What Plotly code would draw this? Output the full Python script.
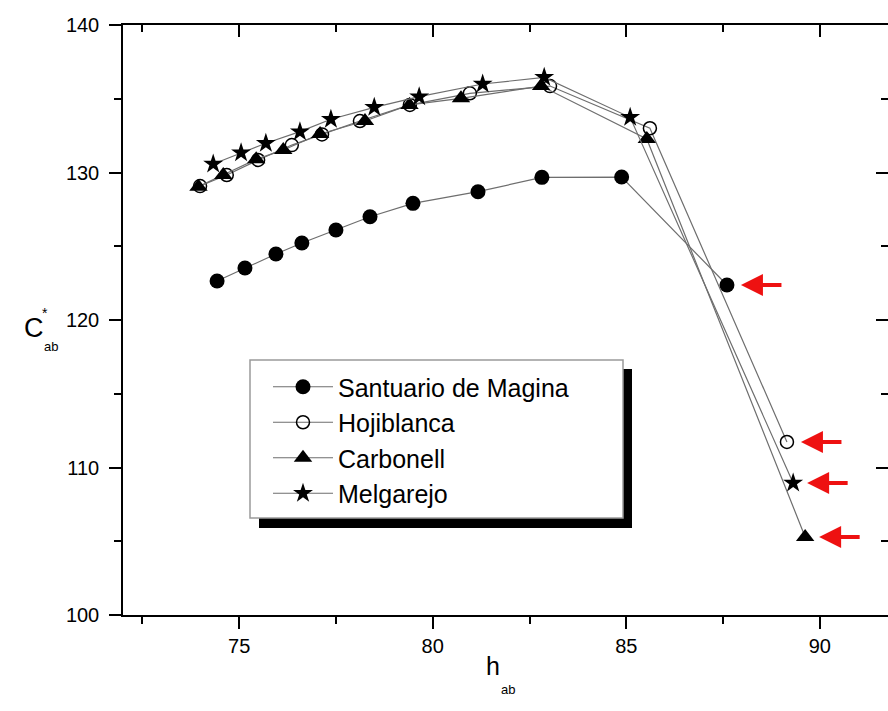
import plotly.graph_objects as go

# ---- data ----
santuario_h = [74.43, 75.15, 75.95, 76.62, 77.50, 78.38, 79.49, 81.17, 82.82, 84.88, 87.60]
santuario_c = [122.64, 123.53, 124.47, 125.22, 126.10, 127.0, 127.91, 128.70, 129.67, 129.69, 122.37]

hojiblanca_h = [73.99, 74.68, 75.49, 76.36, 77.14, 78.12, 79.41, 80.96, 83.03, 85.61, 89.15]
hojiblanca_c = [129.08, 129.83, 130.85, 131.86, 132.58, 133.49, 134.58, 135.37, 135.86, 133.0, 111.73]

carbonell_h = [73.95, 74.59, 75.44, 76.14, 77.09, 78.25, 79.40, 80.73, 82.80, 85.53, 89.62]
carbonell_c = [129.04, 129.83, 130.89, 131.53, 132.61, 133.49, 134.58, 135.03, 135.86, 132.27, 105.29]

melgarejo_h = [74.33, 75.05, 75.69, 76.57, 77.37, 78.49, 79.65, 81.29, 82.88, 85.10, 89.31]
melgarejo_c = [130.58, 131.34, 131.98, 132.77, 133.61, 134.42, 135.14, 136.0, 136.45, 133.74, 108.95]

series_names = ["Santuario de Magina", "Hojiblanca", "Carbonell", "Melgarejo"]
x_ticks = [75, 80, 85, 90]
y_ticks = [100, 110, 120, 130, 140]
x_range = [72, 91.76]
y_range = [100, 140]

FONT = "Liberation Sans, Arial, sans-serif"
LINE = dict(color="#6e6e6e", width=1.2)

fig = go.Figure()
fig.add_trace(go.Scatter(x=santuario_h, y=santuario_c, name=series_names[0], mode="lines+markers",
                         line=LINE, marker=dict(symbol="circle", size=15, color="black")))
fig.add_trace(go.Scatter(x=hojiblanca_h, y=hojiblanca_c, name=series_names[1], mode="lines+markers",
                         line=LINE, marker=dict(symbol="circle-open", size=13, color="black",
                                                line=dict(width=1.5, color="black"))))
fig.add_trace(go.Scatter(x=carbonell_h, y=carbonell_c, name=series_names[2], mode="lines+markers",
                         line=LINE, marker=dict(symbol="triangle-up", size=16, color="black")))
fig.add_trace(go.Scatter(x=melgarejo_h, y=melgarejo_c, name=series_names[3], mode="lines+markers",
                         line=LINE, marker=dict(symbol="star", size=15, color="black")))

axis_common = dict(showline=True, linecolor="black", linewidth=1.5, showgrid=False, zeroline=False,
                   tickcolor="black", tickwidth=1.5,
                   tickfont=dict(family=FONT, size=20, color="black"))

fig.update_layout(
    width=888, height=711,
    margin=dict(l=123, r=0, t=25, b=96),
    paper_bgcolor="white", plot_bgcolor="white",
    showlegend=True,
    xaxis=dict(range=x_range, tickvals=x_ticks, ticks="outside", ticklen=12,
               ticklabelstandoff=0,
               minor=dict(dtick=2.5, tick0=72.5, ticks="outside", ticklen=7, tickwidth=1.5,
                          tickcolor="black", showgrid=False),
               **axis_common),
    yaxis=dict(range=y_range, tickvals=y_ticks, ticks="outside", ticklen=12,
               ticklabelstandoff=6,
               minor=dict(dtick=5, ticks="outside", ticklen=7, tickwidth=1.5,
                          tickcolor="black", showgrid=False),
               **axis_common),
    xaxis2=dict(range=x_range, overlaying="x", side="top", anchor="y", tickvals=x_ticks,
                ticks="inside", ticklen=12, showticklabels=False,
                minor=dict(dtick=2.5, tick0=72.5, ticks="inside", ticklen=7, tickwidth=1.5,
                           tickcolor="black", showgrid=False),
                **axis_common),
    yaxis2=dict(range=y_range, overlaying="y", side="right", anchor="x", tickvals=y_ticks,
                ticks="inside", ticklen=12, showticklabels=False,
                minor=dict(dtick=5, ticks="inside", ticklen=7, tickwidth=1.5,
                           tickcolor="black", showgrid=False),
                **axis_common),
    legend=dict(x=(268 - 123) / 765, y=(615 - 364) / 590, xanchor="left", yanchor="top",
                bgcolor="rgba(0,0,0,0)", borderwidth=0, itemwidth=60,
                font=dict(family=FONT, size=25, color="black")),
)

# invisible trace to anchor overlay axes
fig.add_trace(go.Scatter(x=[x_range[0]], y=[y_range[0]], xaxis="x2", yaxis="y2", mode="markers",
                         marker=dict(opacity=0), showlegend=False, hoverinfo="skip"))

def px_x(p):
    return (p - 123) / 765

def px_y(p):
    return (615 - p) / 590

# legend box with shadow
fig.add_shape(type="rect", xref="paper", yref="paper", x0=px_x(259), x1=px_x(632),
              y0=px_y(528), y1=px_y(369), fillcolor="black", line=dict(width=0), layer="above")
fig.add_shape(type="rect", xref="paper", yref="paper", x0=px_x(250), x1=px_x(623),
              y0=px_y(518), y1=px_y(360), fillcolor="white", line=dict(color="#9a9a9a", width=1.5),
              layer="above")

# axis titles
fig.add_annotation(text="C", xref="paper", yref="paper", x=px_x(22), y=px_y(328), showarrow=False,
                   font=dict(family=FONT, size=27, color="black"))
fig.add_annotation(text="*", xref="paper", yref="paper", x=px_x(40), y=px_y(313), showarrow=False,
                   font=dict(family=FONT, size=14, color="black"))
fig.add_annotation(text="ab", xref="paper", yref="paper", x=px_x(42), y=px_y(346), showarrow=False,
                   font=dict(family=FONT, size=13, color="black"))
fig.add_annotation(text="h", xref="paper", yref="paper", x=px_x(493), y=px_y(682), showarrow=False,
                   font=dict(family=FONT, size=25, color="black"))
fig.add_annotation(text="ab", xref="paper", yref="paper", x=px_x(508), y=px_y(699), showarrow=False,
                   font=dict(family=FONT, size=13, color="black"))

# red arrows pointing at the final points
for xs, ys in [(santuario_h, santuario_c), (hojiblanca_h, hojiblanca_c),
               (carbonell_h, carbonell_c), (melgarejo_h, melgarejo_c)]:
    fig.add_annotation(x=xs[-1], y=ys[-1], xref="x", yref="y", text="", showarrow=True,
                       ax=42, ay=0, axref="pixel", ayref="pixel", xshift=14,
                       arrowhead=2, arrowsize=1.1, arrowwidth=4, arrowcolor="#ee1111")

fig.write_html("out.html")
